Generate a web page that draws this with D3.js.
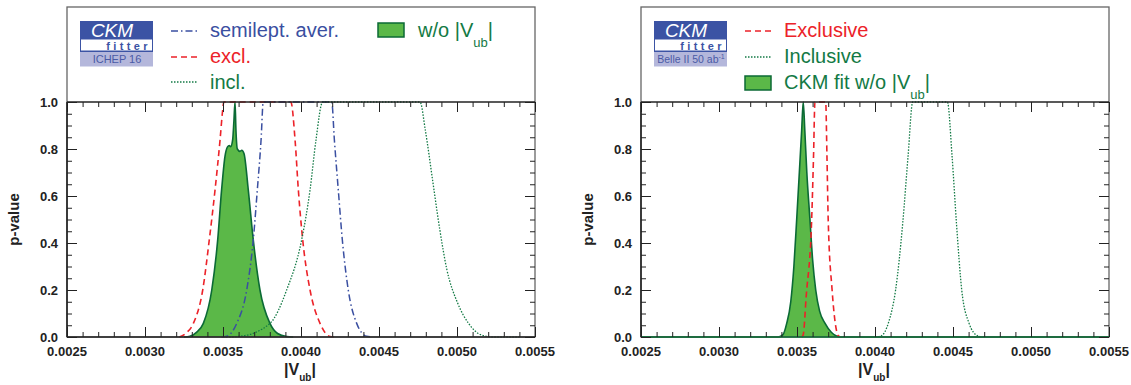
<!DOCTYPE html>
<html><head><meta charset="utf-8">
<script src="https://cdn.jsdelivr.net/npm/d3@7"></script>
<style>body{margin:0;background:#fff}svg{display:block;font-family:"Liberation Sans",Arial,sans-serif}</style>
</head><body><svg id="c" width="1131" height="385"></svg>
<script>
// ---------- data ----------
const xTickValues = [0.0025, 0.0030, 0.0035, 0.0040, 0.0045, 0.0050, 0.0055];
const xTickLabels = ["0.0025", "0.0030", "0.0035", "0.0040", "0.0045", "0.0050", "0.0055"];
const yTickValues = [0.0, 0.2, 0.4, 0.6, 0.8, 1.0];
const yTickLabels = ["0.0", "0.2", "0.4", "0.6", "0.8", "1.0"];

// Left panel (ICHEP 16)
const leftFit = [[0.00325,0],[0.003288,0.003],[0.00333,0.02],[0.003374,0.058],[0.003428,0.2],[0.003466,0.413],[0.003491,0.626],[0.003513,0.77],[0.00353,0.81],[0.00354,0.815],[0.003549,0.81],[0.003562,0.84],[0.00357,0.92],[0.003577,1.0],[0.003583,0.88],[0.003592,0.80],[0.003609,0.79],[0.00362,0.795],[0.003635,0.78],[0.003662,0.626],[0.003694,0.413],[0.003737,0.2],[0.003801,0.058],[0.00385,0.015],[0.003908,0.002],[0.00395,0]];
const leftSemilept = [[0.00349,0],[0.003524,0.003],[0.003588,0.058],[0.003652,0.2],[0.003694,0.413],[0.00372,0.626],[0.003744,0.838],[0.003758,1.0],[0.004197,1.0],[0.004214,0.838],[0.004239,0.626],[0.004265,0.413],[0.004303,0.2],[0.004357,0.058],[0.004421,0.003],[0.00446,0]];
const leftExcl = [[0.00322,0],[0.00326,0.015],[0.00331,0.058],[0.00337,0.2],[0.003412,0.413],[0.003449,0.626],[0.003481,0.838],[0.003498,0.966],[0.003505,1.0],[0.003935,1.0],[0.003962,0.838],[0.003983,0.626],[0.004011,0.413],[0.004058,0.2],[0.004122,0.058],[0.004186,0.002],[0.00422,0]];
const leftIncl = [[0.00352,0],[0.003609,0.003],[0.003801,0.058],[0.003908,0.2],[0.004004,0.413],[0.004058,0.626],[0.004096,0.838],[0.004139,1.0],[0.004763,1.0],[0.004797,0.88],[0.004843,0.67],[0.004889,0.46],[0.004934,0.29],[0.005003,0.146],[0.005072,0.06],[0.005152,0.01],[0.005232,0],[0.0054,0]];

// Right panel (Belle II 50 ab-1)
const rightFit = [[0.0025,0],[0.00338,0],[0.00341,0.01],[0.003434,0.058],[0.00346,0.15],[0.00348,0.3],[0.003498,0.5],[0.003515,0.7],[0.00353,0.88],[0.00354,1.0],[0.00355,0.88],[0.003563,0.7],[0.003583,0.5],[0.0036,0.33],[0.00362,0.2],[0.003645,0.11],[0.00368,0.058],[0.00372,0.02],[0.00378,0],[0.0055,0]];
const rightExcl = [[0.00353,0],[0.00354,0.01],[0.003559,0.174],[0.003594,0.5],[0.003606,0.77],[0.003615,1.0],[0.003684,1.0],[0.003692,0.77],[0.0037,0.5],[0.003725,0.2],[0.003745,0.06],[0.003765,0.005],[0.00378,0]];
const rightIncl = [[0.00400,0],[0.00404,0.005],[0.004086,0.06],[0.004132,0.2],[0.004178,0.486],[0.004212,0.77],[0.004242,1.0],[0.004464,1.0],[0.004494,0.77],[0.004522,0.486],[0.004556,0.2],[0.004602,0.06],[0.004659,0.005],[0.0047,0]];

const legendLeft = ["semilept. aver.", "excl.", "incl.", "w/o |V"];
const legendRight = ["Exclusive", "Inclusive", "CKM fit w/o |V"];

// ---------- styles ----------
const RED = "#ec2229", BLUE = "#3a4fa1", GREEN_LINE = "#137a45", FILL = "#5bb848", FILL_STROKE = "#0b6a35";
const LOGO_BLUE = "#3b53a4", LOGO_LAV = "#b4b7db";

const svg = d3.select("#c");

function drawPanel(x0, cfg) {
  const x1 = x0 + 468, yTop = 102, yBot = 337, frameTop = 7;
  const x = d3.scaleLinear().domain([0.0025, 0.0055]).range([x0, x1]);
  const y = d3.scaleLinear().domain([0, 1]).range([yBot, yTop]);
  const g = svg.append("g");

  const clipId = "clip" + x0;
  svg.append("clipPath").attr("id", clipId).append("rect")
    .attr("x", x0).attr("y", yTop - 2).attr("width", 468).attr("height", yBot - yTop + 3);
  const plot = g.append("g").attr("clip-path", `url(#${clipId})`);

  const line = d3.line().x(d => x(d[0])).y(d => y(d[1])).curve(d3.curveMonotoneX);
  const area = d3.area().x(d => x(d[0])).y0(y(0)).y1(d => y(d[1])).curve(d3.curveMonotoneX);

  plot.append("path").datum(cfg.fit).attr("d", area).attr("fill", FILL);
  plot.append("path").datum(cfg.fit).attr("d", line).attr("fill", "none")
    .attr("stroke", FILL_STROKE).attr("stroke-width", 1.6);
  cfg.lines.forEach(l => {
    plot.append("path").datum(l.data).attr("d", line).attr("fill", "none")
      .attr("stroke", l.color).attr("stroke-width", l.width).attr("stroke-dasharray", l.dash);
  });

  // outer frame
  g.append("rect").attr("x", x0).attr("y", frameTop).attr("width", 468).attr("height", yBot - frameTop)
    .attr("fill", "none").attr("stroke", "#666").attr("stroke-width", 1.3);
  g.append("line").attr("x1", x0).attr("x2", x1).attr("y1", yTop).attr("y2", yTop)
    .attr("stroke", "#222").attr("stroke-width", 1.6);
  g.append("line").attr("x1", x0).attr("x2", x1).attr("y1", yBot).attr("y2", yBot)
    .attr("stroke", cfg.bottomColor).attr("stroke-width", 1.6);
  g.append("line").attr("x1", x0).attr("x2", x0).attr("y1", yTop).attr("y2", yBot)
    .attr("stroke", "#222").attr("stroke-width", 1.6);

  // ticks
  const tickG = g.append("g");
  function addAxis(axis, transform, values, size) {
    const a = tickG.append("g").attr("transform", transform)
      .call(axis.tickValues(values).tickSizeInner(size).tickSizeOuter(0).tickFormat(""));
    a.select(".domain").remove();
    a.selectAll("line").attr("stroke", "#222").attr("stroke-width", 1);
  }
  const xMinor = x.ticks(30), yMinor = y.ticks(20);
  addAxis(d3.axisBottom(x), `translate(0,${yBot})`, xMinor, -5);
  addAxis(d3.axisBottom(x), `translate(0,${yBot})`, xTickValues, -10);
  addAxis(d3.axisTop(x), `translate(0,${yTop})`, xMinor, -5);
  addAxis(d3.axisTop(x), `translate(0,${yTop})`, xTickValues, -10);
  addAxis(d3.axisLeft(y), `translate(${x0},0)`, yMinor, -5);
  addAxis(d3.axisLeft(y), `translate(${x0},0)`, yTickValues, -10);
  addAxis(d3.axisRight(y), `translate(${x1},0)`, yMinor, -5);
  addAxis(d3.axisRight(y), `translate(${x1},0)`, yTickValues, -10);

  // tick labels
  xTickValues.forEach((v, i) => {
    g.append("text").attr("x", x(v)).attr("y", 356).attr("text-anchor", "middle")
      .attr("font-size", 13).attr("font-weight", "bold").attr("fill", "#222").text(xTickLabels[i]);
  });
  yTickValues.forEach((v, i) => {
    g.append("text").attr("x", x0 - 9).attr("y", y(v) + 4.5).attr("text-anchor", "end")
      .attr("font-size", 13).attr("font-weight", "bold").attr("fill", "#222").text(yTickLabels[i]);
  });
  // axis titles
  g.append("text").attr("transform", `translate(${x0 - 48},${(yTop + yBot) / 2}) rotate(-90)`)
    .attr("text-anchor", "middle").attr("font-size", 15).attr("font-weight", "bold").attr("fill", "#222").text("p-value");
  const xt = g.append("text").attr("x", x(0.0040) - 1).attr("y", 375).attr("text-anchor", "middle")
    .attr("font-size", 16).attr("font-weight", "bold").attr("fill", "#222");
  xt.append("tspan").text("|V");
  xt.append("tspan").attr("dy", 6).attr("font-size", 10).text("ub");
  xt.append("tspan").attr("dy", -6).text("|");

  // logo
  const lx = x0 + 13, ly = 21;
  g.append("rect").attr("x", lx).attr("y", ly).attr("width", 73).attr("height", 31).attr("fill", LOGO_BLUE);
  g.append("rect").attr("x", lx + 1).attr("y", ly + 18.5).attr("width", 71).attr("height", 11).attr("fill", "#fff");
  g.append("rect").attr("x", lx).attr("y", ly + 31).attr("width", 73).attr("height", 14.5).attr("fill", LOGO_LAV);
  g.append("text").attr("x", lx + 32).attr("y", ly + 16).attr("text-anchor", "middle").attr("font-size", 19)
    .attr("font-style", "italic").attr("fill", "#fff").text("CKM");
  g.append("text").attr("x", lx + 71).attr("y", ly + 28.5).attr("text-anchor", "end").attr("font-size", 11)
    .attr("font-weight", "bold").attr("letter-spacing", 3.4).attr("fill", LOGO_BLUE).text("fitter");
  const lt = g.append("text").attr("x", lx + 37).attr("y", ly + 41.5).attr("text-anchor", "middle")
    .attr("font-size", cfg.logoSize).attr("fill", "#4a5aa6");
  lt.append("tspan").text(cfg.logoText);
  if (cfg.logoSup) lt.append("tspan").attr("dy", -4).attr("font-size", 7).text(cfg.logoSup);

  // legend
  cfg.legend.forEach(e => {
    if (e.type === "box") {
      g.append("rect").attr("x", e.sx).attr("y", e.sy - 7).attr("width", 26).attr("height", 14)
        .attr("fill", FILL).attr("stroke", FILL_STROKE).attr("stroke-width", 1.5);
    } else {
      g.append("line").attr("x1", e.sx).attr("x2", e.sx + 27).attr("y1", e.sy).attr("y2", e.sy)
        .attr("stroke", e.color).attr("stroke-width", e.width).attr("stroke-dasharray", e.dash);
    }
    const t = g.append("text").attr("x", e.tx).attr("y", e.ty).attr("font-size", 20).attr("fill", e.textColor);
    t.append("tspan").text(e.text);
    if (e.sub) {
      t.append("tspan").attr("dy", 10).attr("font-size", 13).text("ub");
      t.append("tspan").attr("dy", -10).text("|");
    }
  });
}

drawPanel(67, {
  fit: leftFit,
  bottomColor: "#222",
  lines: [
    { data: leftExcl, color: RED, width: 1.6, dash: "6,4" },
    { data: leftSemilept, color: BLUE, width: 1.5, dash: "7,3,1.5,3" },
    { data: leftIncl, color: GREEN_LINE, width: 1.3, dash: "1.5,1.5" }
  ],
  logoText: "ICHEP 16", logoSup: null, logoSize: 11,
  legend: [
    { sx: 171, sy: 31, tx: 210, ty: 37, color: BLUE, width: 1.5, dash: "7,3,1.5,3", textColor: BLUE, text: legendLeft[0] },
    { sx: 171, sy: 57, tx: 210, ty: 63, color: RED, width: 1.6, dash: "6,4", textColor: RED, text: legendLeft[1] },
    { sx: 171, sy: 82, tx: 210, ty: 89, color: GREEN_LINE, width: 1.3, dash: "1.5,1.5", textColor: GREEN_LINE, text: legendLeft[2] },
    { type: "box", sx: 378, sy: 30, tx: 418, ty: 37, textColor: GREEN_LINE, text: legendLeft[3], sub: true }
  ]
});

drawPanel(641, {
  fit: rightFit,
  bottomColor: FILL_STROKE,
  lines: [
    { data: rightExcl, color: RED, width: 1.6, dash: "6,4" },
    { data: rightIncl, color: GREEN_LINE, width: 1.3, dash: "1.5,1.5" }
  ],
  logoText: "Belle II 50 ab", logoSup: "-1", logoSize: 10.5,
  legend: [
    { sx: 745, sy: 31, tx: 784, ty: 37, color: RED, width: 1.6, dash: "6,4", textColor: RED, text: legendRight[0] },
    { sx: 745, sy: 57, tx: 784, ty: 63, color: GREEN_LINE, width: 1.3, dash: "1.5,1.5", textColor: GREEN_LINE, text: legendRight[1] },
    { type: "box", sx: 745, sy: 83, tx: 784, ty: 89, textColor: GREEN_LINE, text: legendRight[2], sub: true }
  ]
});
</script></body></html>
